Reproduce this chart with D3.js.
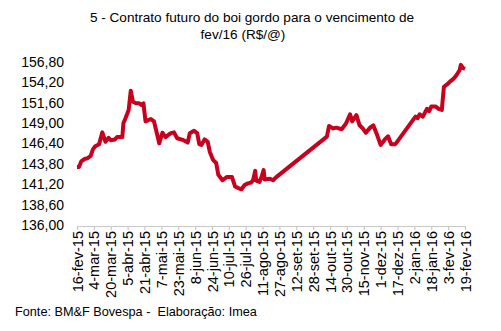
<!DOCTYPE html>
<html><head><meta charset="utf-8">
<script src="https://cdn.jsdelivr.net/npm/d3@7"></script>
<style>
html,body{margin:0;padding:0;background:#fff;}
text{font-family:"Liberation Sans",Arial,Helvetica,sans-serif;fill:#000;}
</style></head>
<body>
<svg id="chart" width="501" height="331"></svg>
<script>
const titleLines = ["5 - Contrato futuro do boi gordo para o vencimento de", "fev/16 (R$/@)"];
const sourceText = "Fonte: BM&F Bovespa -  Elaboração: Imea";

const dates = ["2015-02-16","2015-02-18","2015-02-20","2015-02-23","2015-02-26","2015-03-01","2015-03-03","2015-03-05","2015-03-09","2015-03-12",
"2015-03-15","2015-03-18","2015-03-20","2015-03-24","2015-03-26","2015-03-31","2015-04-01","2015-04-03","2015-04-06","2015-04-08",
"2015-04-10","2015-04-13","2015-04-16","2015-04-18","2015-04-20","2015-04-22","2015-04-27","2015-04-30","2015-05-02","2015-05-05",
"2015-05-08","2015-05-11","2015-05-14","2015-05-16","2015-05-19","2015-05-22","2015-05-28","2015-06-01","2015-06-03","2015-06-07",
"2015-06-10","2015-06-12","2015-06-14","2015-06-17","2015-06-20","2015-06-22","2015-06-25","2015-06-28","2015-06-30","2015-07-04",
"2015-07-08","2015-07-13","2015-07-16","2015-07-19","2015-07-22","2015-07-25","2015-07-28","2015-07-31","2015-08-02","2015-08-04",
"2015-08-05","2015-08-08","2015-08-10","2015-08-12","2015-08-13","2015-08-18","2015-08-21","2015-08-24","2015-10-11","2015-10-13",
"2015-10-17","2015-10-20","2015-10-25","2015-10-29","2015-11-02","2015-11-04","2015-11-08","2015-11-11","2015-11-14","2015-11-17",
"2015-11-21","2015-11-24","2015-11-27","2015-12-01","2015-12-05","2015-12-08","2015-12-11","2015-12-15","2016-01-03","2016-01-05",
"2016-01-07","2016-01-10","2016-01-14","2016-01-16","2016-01-18","2016-01-22","2016-01-25","2016-01-28","2016-01-30","2016-02-02",
"2016-02-05","2016-02-08","2016-02-11","2016-02-14","2016-02-15","2016-02-17","2016-02-19"];

const prices = [143.4,143.4,144.1,144.4,144.5,144.8,145.6,146.0,146.3,147.8,
146.6,147.1,146.8,146.9,147.2,147.2,148.95,149.6,150.65,153.1,
151.7,151.5,151.5,151.3,151.5,149.2,149.5,149.2,148.1,146.4,
147.75,147.2,147.5,147.7,147.8,147.05,146.8,146.5,147.7,148.0,
147.7,146.3,146.2,146.9,146.6,145.3,144.3,143.9,142.4,141.7,
142.1,142.1,140.9,140.7,140.55,141.1,141.3,141.4,141.7,142.9,
141.65,141.5,142.1,143.0,141.8,141.9,141.7,142.1,147.25,148.6,
148.3,148.4,148.2,148.9,150.1,149.2,150.0,148.7,148.3,147.75,
148.4,148.7,147.7,146.2,146.9,147.3,146.3,146.3,149.8,149.6,
150.1,149.8,150.8,150.5,151.1,151.1,150.8,150.65,153.6,153.9,
154.3,154.6,155.1,155.75,156.4,156.0,155.9];

const xTickLabels = ["16-fev-15","4-mar-15","20-mar-15","5-abr-15","21-abr-15","7-mai-15","23-mai-15","8-jun-15","24-jun-15","10-jul-15",
"26-jul-15","11-ago-15","27-ago-15","12-set-15","28-set-15","14-out-15","30-out-15","15-nov-15","1-dez-15","17-dez-15",
"2-jan-16","18-jan-16","3-fev-16","19-fev-16"];

const yTicks = [136.0,138.6,141.2,143.8,146.4,149.0,151.6,154.2,156.8];

const monthIdx = {jan:0,fev:1,mar:2,abr:3,mai:4,jun:5,jul:6,ago:7,set:8,out:9,nov:10,dez:11};
function parseLabel(s){
  const p = s.split("-");
  return new Date(Date.UTC(2000 + (+p[2]), monthIdx[p[1]], +p[0]));
}
const parse = d3.utcParse("%Y-%m-%d");
const data = dates.map((d,i)=>({date: parse(d), value: prices[i]}));
const tickDates = xTickLabels.map(parseLabel);

const svg = d3.select("#chart");

const x = d3.scaleUtc()
  .domain([tickDates[0], tickDates[tickDates.length-1]])
  .range([77, 465]);
const y = d3.scaleLinear()
  .domain([136, 156.8])
  .range([225, 61.7]);

// Title
const title = svg.append("text")
  .attr("text-anchor","middle")
  .style("font-size","13.6px");
title.append("tspan").attr("x",252).attr("y",22).text(titleLines[0]);
title.append("tspan").attr("x",243).attr("y",39).text(titleLines[1]);

// Y axis labels
const fmt = v => d3.format(".2f")(v).replace(".", ",");
const yAxis = svg.append("g")
  .attr("transform","translate(67,0)")
  .call(d3.axisLeft(y).tickValues(yTicks).tickFormat(fmt).tickSize(0).tickPadding(3));
yAxis.select(".domain").remove();
yAxis.selectAll("text")
  .style("font-size","14px")
  .style("font-family","\"Liberation Sans\",Arial,sans-serif")
  .attr("fill","#000");

// X axis
const tickFmt = d => xTickLabels[tickDates.findIndex(t => +t === +d)];
const xAxis = svg.append("g")
  .attr("transform","translate(0,226)")
  .call(d3.axisBottom(x).tickValues(tickDates).tickFormat(tickFmt).tickSize(4).tickSizeOuter(0).tickPadding(4));
xAxis.select(".domain").attr("stroke","#c8c8c8").attr("stroke-width",1.2);
xAxis.selectAll(".tick line").attr("stroke","#c8c8c8").attr("stroke-width",1.2);
xAxis.selectAll("text")
  .style("font-size","14.5px")
  .style("font-family","\"Liberation Sans\",Arial,sans-serif")
  .attr("fill","#000")
  .attr("transform","rotate(-90)")
  .attr("text-anchor","end")
  .attr("x",-5)
  .attr("y",0)
  .attr("dy","0.35em");

// Line
const line = d3.line()
  .x(d => x(d.date))
  .y(d => y(d.value));
svg.append("path")
  .datum(data)
  .attr("fill","none")
  .attr("stroke","#c8001e")
  .attr("stroke-width",4)
  .attr("stroke-linejoin","round")
  .attr("stroke-linecap","butt")
  .attr("d", line);

// Source
svg.append("text")
  .attr("x",15)
  .attr("y",316)
  .style("font-size","12.7px")
  .style("white-space","pre")
  .text(sourceText);
</script>
</body></html>
